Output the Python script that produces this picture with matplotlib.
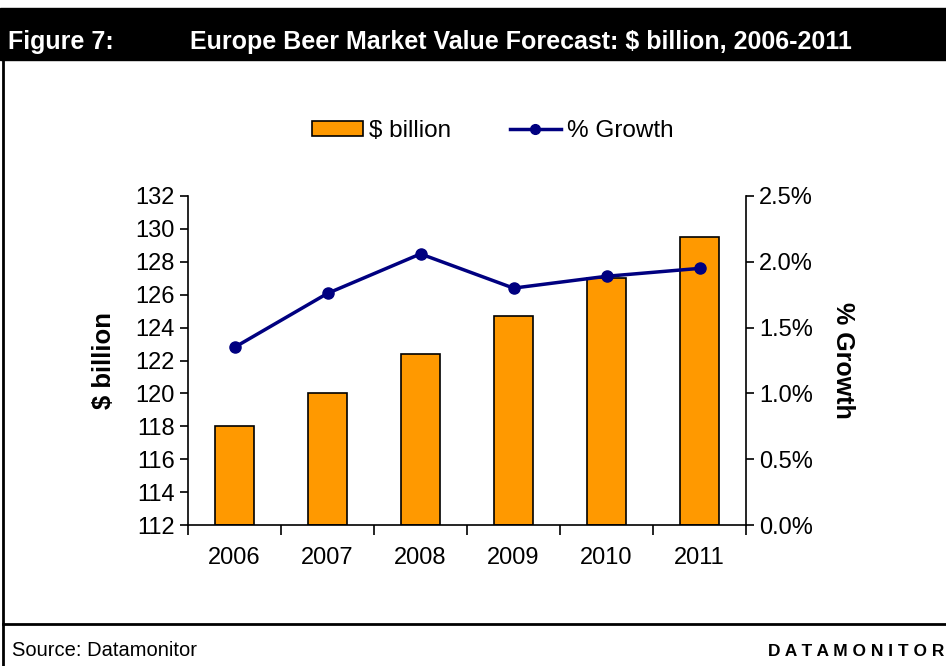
import matplotlib.pyplot as plt
import numpy as np
from matplotlib.lines import Line2D
from matplotlib.patches import Patch

plt.rcParams['font.family'] = ['Liberation Sans', 'DejaVu Sans']

years = ['2006', '2007', '2008', '2009', '2010', '2011']
value_bn = [118.0, 120.0, 122.4, 124.7, 127.0, 129.5]
growth_pct = [1.35, 1.76, 2.06, 1.80, 1.89, 1.95]

fig = plt.figure(figsize=(9.46, 6.66), dpi=100)
W, H = 946, 666

def fx(px):
    return px / W

def fy(py):
    return 1 - py / H

# header band and frame
fig.patches.append(plt.Rectangle((0, fy(60)), 1, fy(8) - fy(60), transform=fig.transFigure,
                                 color='black', zorder=0))
fig.add_artist(Line2D([fx(3), fx(3)], [0, fy(60)], color='black', lw=2))
fig.add_artist(Line2D([fx(3), 1], [fy(624), fy(624)], color='black', lw=2))
fig.text(fx(8), fy(49), 'Figure 7:', color='white', fontsize=18, fontweight='bold',
         va='baseline', ha='left')
fig.text(fx(190), fy(49), 'Europe Beer Market Value Forecast: $ billion, 2006-2011', color='white',
         fontsize=18, fontweight='bold', va='baseline', ha='left')
fig.text(fx(12), fy(651), 'Source: Datamonitor', fontsize=14.5, va='center', ha='left')
fig.text(fx(768), fy(651), ' '.join('DATAMONITOR'), fontsize=12.5, fontweight='bold',
         va='center', ha='left')

ax = fig.add_axes([fx(188), fy(525), fx(746) - fx(188), fy(196) - fy(525)])
x = np.arange(len(years))
ax.bar(x, [v - 112 for v in value_bn], bottom=112, width=0.41, color='#FF9900',
       edgecolor='black', linewidth=1.2, zorder=2)
ax.set_xlim(-0.5, len(years) - 0.5)
ax.set_ylim(112, 132)
ax.set_yticks(np.arange(112, 133, 2))
ax.set_xticks(x)
ax.set_xticklabels(years)
ax.tick_params(axis='x', length=0, pad=16, labelsize=17)
ax.set_xticks(np.arange(-0.5, len(years), 1), minor=True)
ax.tick_params(axis='x', which='minor', length=7, direction='out', width=1.2)
ax.tick_params(axis='y', length=6, direction='out', labelsize=17, width=1.2)
for side in ['top', 'right']:
    ax.spines[side].set_visible(False)
for side in ['left', 'bottom']:
    ax.spines[side].set_linewidth(1.2)
ax.set_ylabel('$ billion', fontsize=18.5, fontweight='bold', labelpad=14)

ax2 = ax.twinx()
ax2.plot(x, growth_pct, color='#000080', lw=2.5, marker='o', markersize=8, zorder=3)
ax2.set_ylim(0, 2.5)
ax2.set_yticks(np.arange(0, 2.51, 0.5))
ax2.set_yticklabels([f'{t:.1f}%' for t in np.arange(0, 2.51, 0.5)])
ax2.tick_params(axis='y', length=6, direction='out', labelsize=17, width=1.2)
for side in ['top', 'left', 'bottom']:
    ax2.spines[side].set_visible(False)
ax2.spines['right'].set_linewidth(1.2)
ax2.set_ylabel('% Growth', fontsize=18, fontweight='bold', rotation=-90, labelpad=30)

handles = [Patch(facecolor='#FF9900', edgecolor='black', linewidth=1.2, label='$ billion'),
           Line2D([], [], color='#000080', lw=2.5, marker='o', markersize=7, label='% Growth')]
fig.legend(handles=handles, loc='center', bbox_to_anchor=(fx(493), fy(131)), ncol=2,
           frameon=False, fontsize=17.5, handlelength=2.1, handleheight=0.6,
           handletextpad=0.25, columnspacing=2.4)

fig.savefig('out.png', dpi=100)
